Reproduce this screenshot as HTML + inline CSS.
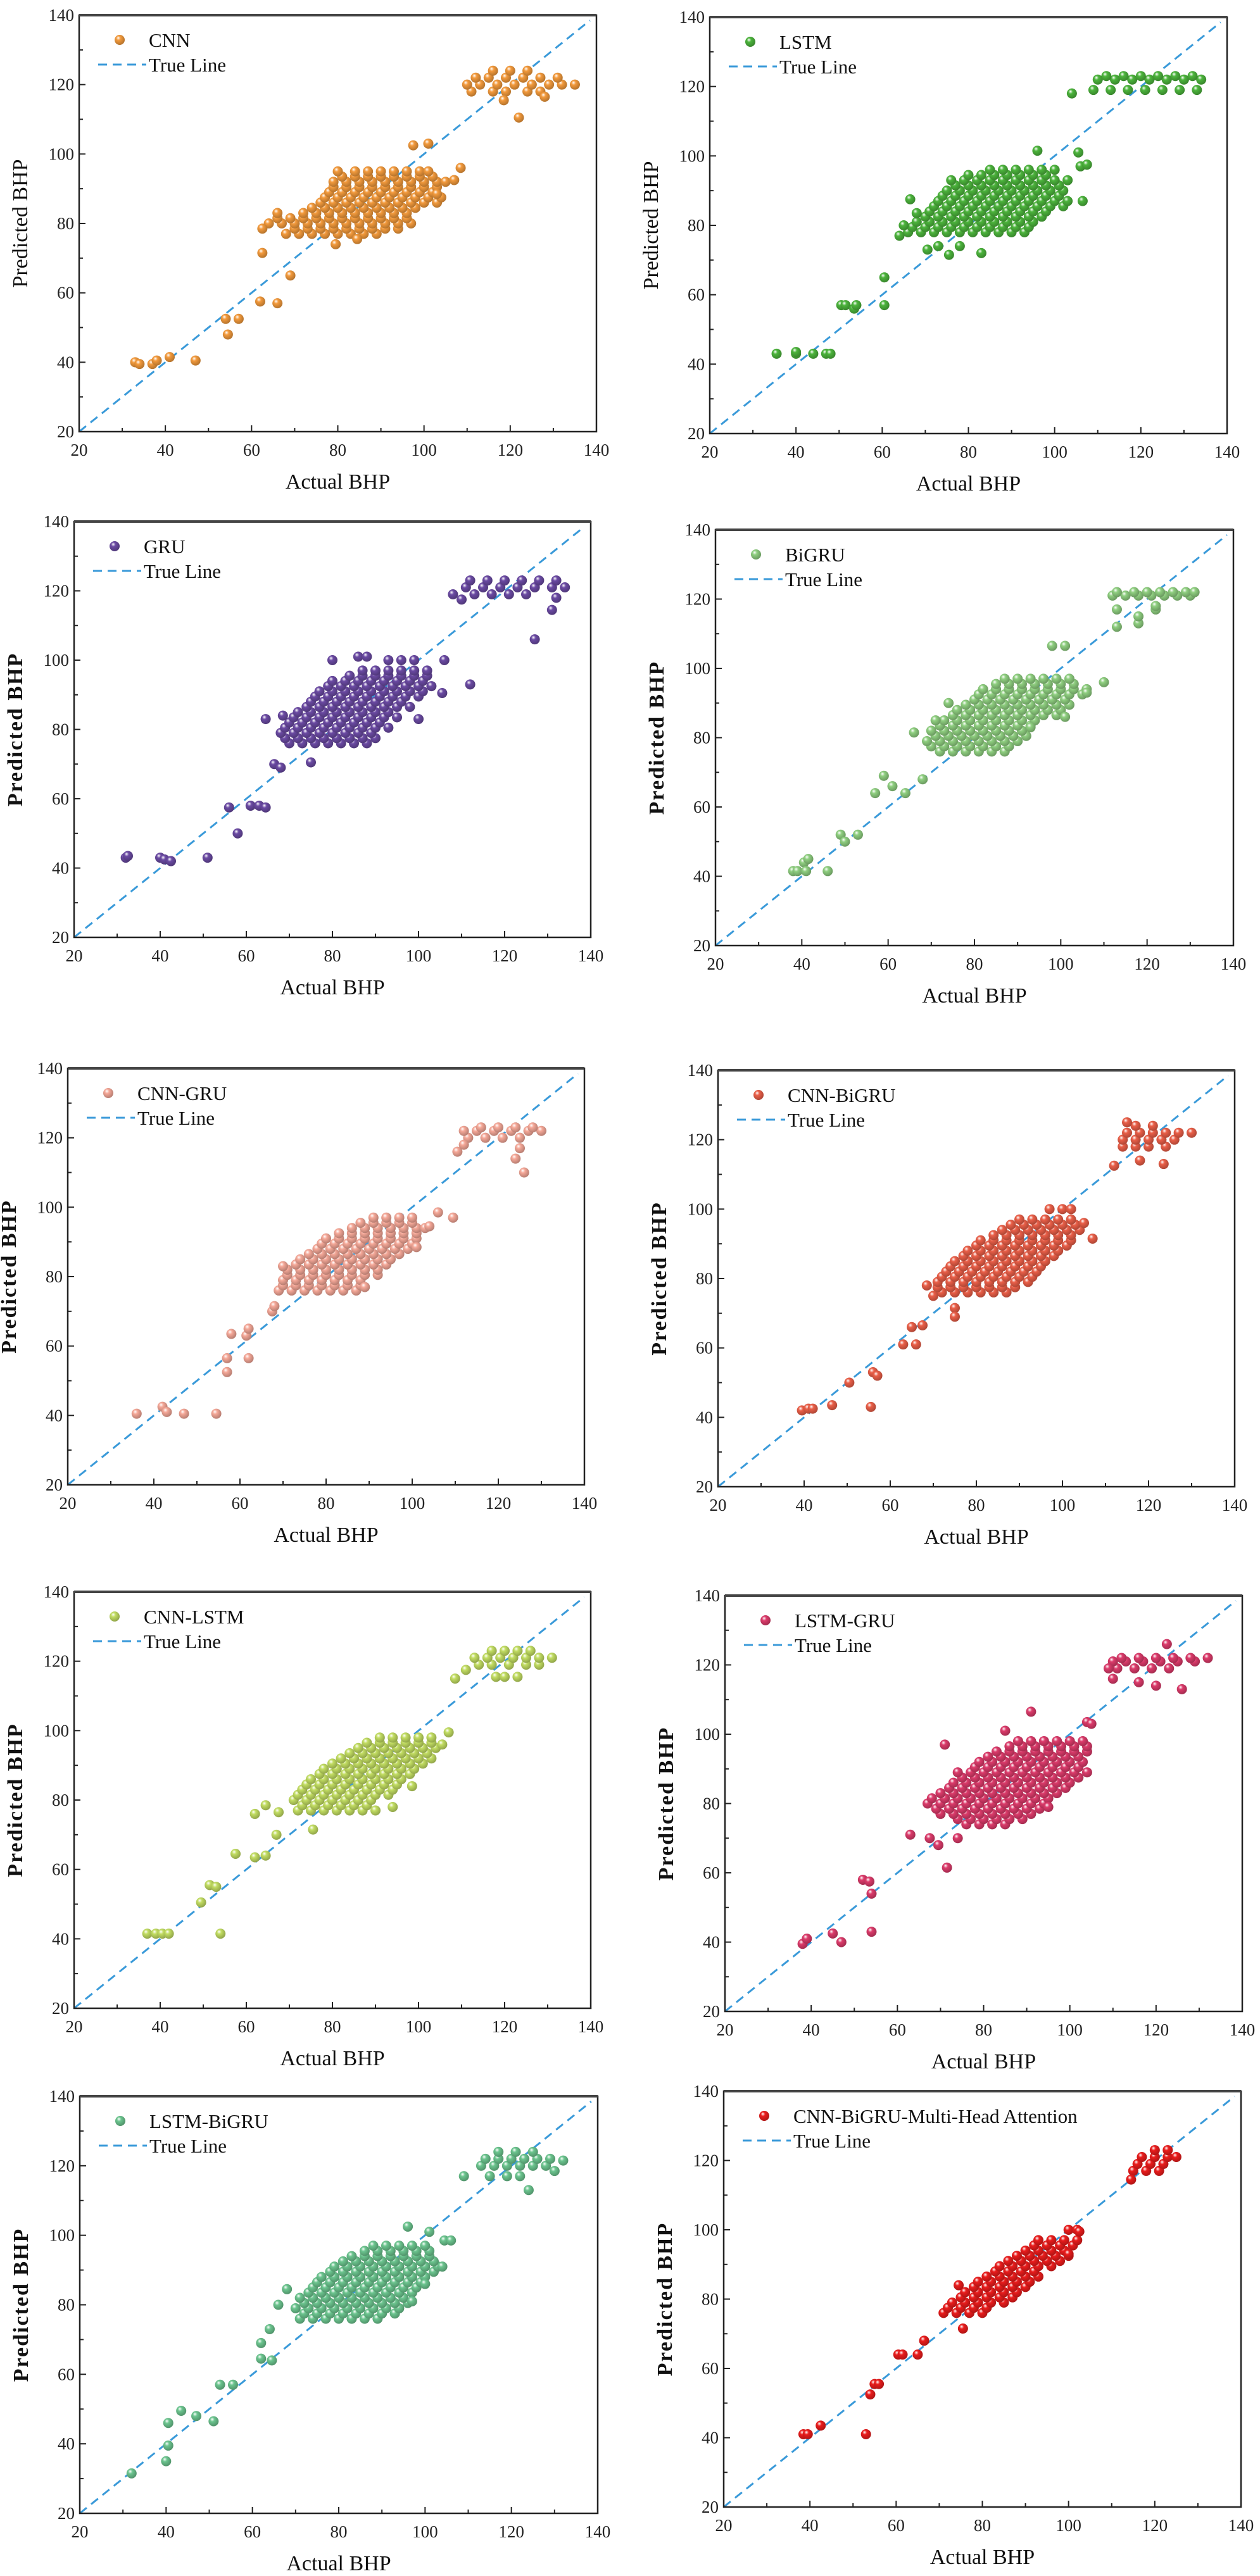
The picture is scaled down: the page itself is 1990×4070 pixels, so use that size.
<!DOCTYPE html>
<html><head><meta charset="utf-8">
<style>
html,body{margin:0;padding:0;background:#fff;}
svg{display:block;}
svg text{font-family:"Liberation Serif","DejaVu Serif",serif;}
</style></head>
<body>
<svg id="fig" width="1990" height="4070" viewBox="0 0 1990 4070" font-family="Liberation Serif, serif" xmlns="http://www.w3.org/2000/svg">
<defs id="defs"></defs>
</svg>
<script>
// ---- axis config
const tickValues = [20, 40, 60, 80, 100, 120, 140];
const minorTickValues = [30, 50, 70, 90, 110, 130];
const axisMin = 20, axisMax = 140;

// ---- CNN
const cnnOutX = [33,34,37,38,41,47,54,54.5,57,62,66,62.5,62.5,69,79.5,84.5,97.5,101,108.5,107,103,122,128,118.5];
const cnnOutY = [40,39.5,39.5,40.5,41.5,40.5,52.5,48,52.5,57.5,57,78.5,71.5,65,74,75.5,102.5,103,96,92.5,88.5,110.5,116.5,115.5];
const cnnRowY = [77,78.5,80,81.5,83,84.5,86,87.5,89,90.5,92,93.5,95,118,120,122,124];
const cnnRowX = [[68,71,74,77,80,83,86,89],[70,73,76,79,82,85,88,91,94],[64,67,70,73,76,79,82,85,88,91,94,97],[66,69,72,75,78,81,84,87,90,93,96],[66,72,75,78,81,84,87,90,93,96],[74,77,80,83,86,89,92,95,98],[76,79,82,85,88,91,94,97,100,103],[77,80,83,86,89,92,95,98,101,104],[78,81,84,87,90,93,96,99,102],[79,82,85,88,91,94,97,100,103],[79,82,85,88,91,94,97,100,103,105],[81,84,87,90,93,96,99,102],[80,84,87,90,93,96,99,101],[111,116,119,124,127],[110,113,117,121,125,129,132,135],[112,115,119,123,127,131],[116,120,124]];
// ---- LSTM
const lstmOutX = [35.5,40,40,44,47,48,50.5,51.5,53.5,54,60.5,60.5,64,65,66.5,68,70.5,73,75.5,78,83,96,105.5,106,107.5,106.5,104];
const lstmOutY = [43,43,43.5,43,43,43,57,57,56,57,57,65,77,80,87.5,83.5,73,74,71.5,74,72,101.5,101,97,97.5,87,118];
const lstmRowY = [78,79.5,81,82.5,84,85.5,87,88.5,90,91.5,93,94.5,96,119,122,123];
const lstmRowX = [[66,69,72,75,78,81,84,87,90,93],[67,70,73,76,79,82,85,88,91,94],[68,71,74,77,80,83,86,89,92,95],[70,73,76,79,82,85,88,91,94,97],[71,74,77,80,83,86,89,92,95,98],[72,75,78,81,84,87,90,93,96,99,102],[73,76,79,82,85,88,91,94,97,100,103],[74,77,80,83,86,89,92,95,98,101],[75,78,81,84,87,90,93,96,99,102],[77,80,83,86,89,92,95,98,101],[76,79,82,85,88,91,94,97,100,103],[80,83,86,89,92,95,98],[85,88,91,94,97,100],[109,113,117,121,125,129,133],[110,114,118,122,126,130,134],[112,116,120,124,128,132]];
// ---- GRU
const gruOutX = [32,32.5,40,41,42.5,51,56,58,61,63,64.5,64.5,66.5,68,75,68.5,80,86,88,106,105.5,112,100,108,110,127,131,132];
const gruOutY = [43,43.5,43,42.5,42,43,57.5,50,58,58,57.5,83,70,69,70.5,84,100,101,101,100,90.5,93,83,119,117.5,106,114.5,118];
const gruRowY = [76,77.5,79,80.5,82,83.5,85,86.5,88,89.5,91,92.5,94,95.5,97,100,119,121,123];
const gruRowX = [[70,73,76,79,82,85,88],[69,72,75,78,81,84,87,90],[68,71,74,77,80,83,86,89],[69,72,75,78,81,84,87,90,93],[70,73,76,79,82,85,88,91],[71,74,77,80,83,86,89,92,95],[72,75,78,81,84,87,90,93],[74,77,80,83,86,89,92,95,98],[75,78,81,84,87,90,93,96],[76,79,82,85,88,91,94,97,100],[77,80,83,86,89,92,95,98,101],[79,82,85,88,91,94,97,100,103],[80,83,86,89,92,95,98,101],[84,87,90,93,96,99,102],[87,90,93,96,99,102],[93,96,99],[113,117,121,125],[111,115,119,123,127,131,134],[112,116,120,124,128,132]];
// ---- BiGRU
const bigruOutX = [38,39,40.5,41.5,41,46,49,50,53,57,59,61,64,68,66,71,74,98,101,110,106,101,93,113,113,118,118,122,122];
const bigruOutY = [41.5,41.5,44,45,41.5,41.5,52,50,52,64,69,66,64,68,81.5,85,90,106.5,106.5,96,93,86,83,112,117,113,115,117,118];
const bigruRowY = [76,77.5,79,80.5,82,83.5,85,86.5,88,89.5,91,92.5,94,95.5,97,121,122];
const bigruRowX = [[72,75,78,81,84,87],[70,73,76,79,82,85,88],[69,72,75,78,81,84,87,90],[71,74,77,80,83,86,89,92],[70,73,76,79,82,85,88,91],[72,75,78,81,84,87,90,93],[73,76,79,82,85,88,91,94],[75,78,81,84,87,90,93,96,99],[76,79,82,85,88,91,94,97,100],[78,81,84,87,90,93,96,99,102],[80,83,86,89,92,95,98,101],[81,84,87,90,93,96,99,102,105],[82,85,88,91,94,97,100,103,106],[85,88,91,94,97,100,103],[87,90,93,96,99,102],[112,115,118,121,124,127,130],[113,117,120,123,126,129,131]];
// ---- CNN-GRU
const cnngruOutX = [36,42,43,47,54.5,57,57,58,61.5,62,62,67.5,68,70,89,101,104,106,109.5,110.5,112,124,125,126];
const cnngruOutY = [40.5,42.5,41,40.5,40.5,52.5,56.5,63.5,63,65,56.5,70,71.5,83,77,88.5,94.5,98.5,97,116,118,114,117,110];
const cnngruRowY = [76,77.5,79,80.5,82,83.5,85,86.5,88,89.5,91,92.5,94,95.5,97,120,122,123];
const cnngruRowX = [[69,72,75,78,81,84,87],[70,73,76,79,82,85,88],[70,73,76,79,82,85,88],[71,74,77,80,83,86,89,92],[71,74,77,80,83,86,89,92],[73,76,79,82,85,88,91,94],[74,77,80,83,86,89,92,95],[76,79,82,85,88,91,94,97],[78,81,84,87,90,93,96,99],[79,82,85,88,91,94,97,100],[80,83,86,89,92,95,98,101],[83,86,89,92,95,98,101],[86,89,92,95,98,101,103],[88,91,94,97,100],[91,94,97,100],[113,117,121,125],[112,115,119,123,127,130],[116,120,124,128]];
// ---- CNN-BiGRU
const cnnbigruOutX = [39.5,41,42,46.5,50.5,55.5,56,57,63,65,66,67.5,68.5,70,75,75,107,105,112,118,123.5,115];
const cnnbigruOutY = [42,42.5,42.5,43.5,50,43,53,52,61,66,61,66.5,78,75,71.5,69,91.5,96,112.5,114,113,125];
const cnnbigruRowY = [76,77.5,79,80.5,82,83.5,85,86.5,88,89.5,91,92.5,94,95.5,97,100,118,120,122,124];
const cnnbigruRowX = [[72,75,78,81,84,87],[71,74,77,80,83,86,89],[71,74,77,80,83,86,89,92],[72,75,78,81,84,87,90,93],[73,76,79,82,85,88,91,94],[74,77,80,83,86,89,92,95],[75,78,81,84,87,90,93,96],[77,80,83,86,89,92,95,98],[78,81,84,87,90,93,96,99],[80,83,86,89,92,95,98,101],[81,84,87,90,93,96,99,102],[84,87,90,93,96,99,102],[86,89,92,95,98,101,104],[88,91,94,97,100,103],[90,93,96,99,102],[97,100,102],[114,117,120,124],[114,117,120,123,126],[115,118,121,124,127,130],[117,121]];
// ---- CNN-LSTM
const cnnlstmOutX = [37,39,40.5,42,54,49.5,51.5,53,57.5,62,64.5,62,64.5,67,67.5,75.5,94,98.5,105.5,107,108.5,111,118,120,123];
const cnnlstmOutY = [41.5,41.5,41.5,41.5,41.5,50.5,55.5,55,64.5,63.5,64,76,78.5,70,76.5,71.5,78,84,96,99.5,115,117.5,115.5,115.5,115.5];
const cnnlstmRowY = [77,78.5,80,81.5,83,84.5,86,87.5,89,90.5,92,93.5,95,96.5,98,119,121,123];
const cnnlstmRowX = [[72,75,78,81,84,87,90],[73,76,79,82,85,88],[71,74,77,80,83,86,89],[72,75,78,81,84,87,90,93],[73,76,79,82,85,88,91,94],[74,77,80,83,86,89,92,95],[75,78,81,84,87,90,93,96],[77,80,83,86,89,92,95,98],[78,81,84,87,90,93,96,99],[80,83,86,89,92,95,98,101],[82,85,88,91,94,97,100,103],[84,87,90,93,96,99,102],[86,89,92,95,98,101,104],[88,91,94,97,100,103],[91,94,97,100,103],[114,117,121,125,128],[113,116,119,122,125,128,131],[117,120,123,126]];
// ---- LSTM-GRU
const lstmgruOutX = [38,39,45,47,54,52,53.5,54,63,67.5,69.5,71.5,71,74,85,91,95,104,105,109,110,116,120,126,122.5];
const lstmgruOutY = [39.5,41,42.5,40,43,58,57.5,54,71,70,68,61.5,97,70,101,106.5,79,103.5,103,119,116,115,114,113,126];
const lstmgruRowY = [74,75.5,77,78.5,80,81.5,83,84.5,86,87.5,89,90.5,92,93.5,95,96.5,98,119,121,122];
const lstmgruRowX = [[76,79,82,85],[74,77,80,83,86,89],[70,73,76,79,82,85,88,91],[69,72,75,78,81,84,87,90,93],[67,70,73,76,79,82,85,88,91,94],[68,71,74,77,80,83,86,89,92,95],[70,73,76,79,82,85,88,91,94,97],[72,75,78,81,84,87,90,93,96,99],[73,76,79,82,85,88,91,94,97,100],[75,78,81,84,87,90,93,96,99,102],[74,77,80,83,86,89,92,95,98,101,104],[78,81,84,87,90,93,96,99,102],[79,82,85,88,91,94,97,100,103],[81,84,87,90,93,96,99,102],[83,86,89,92,95,98,101,104],[86,89,92,95,98,101,104],[88,91,94,97,100,103],[111,115,119,123],[110,113,117,121,125,129],[112,116,120,124,128,132]];
// ---- LSTM-BiGRU
const lstmbigruOutX = [32,40,40.5,40.5,43.5,47,51,52.5,55.5,62,62,64.5,64,66,68,96,101,104,100,97,104.5,106,109,124,130,132];
const lstmbigruOutY = [31.5,35,39.5,46,49.5,48,46.5,57,57,69,64.5,64,73,80,84.5,102.5,101,91,86,81,98.5,98.5,117,113,118.5,121.5];
const lstmbigruRowY = [76,77.5,79,80.5,82,83.5,85,86.5,88,89.5,91,92.5,94,95.5,97,117,120,122,124];
const lstmbigruRowX = [[71,74,77,80,83,86,89],[72,75,78,81,84,87,90,93],[70,73,76,79,82,85,88,91,94],[72,75,78,81,84,87,90,93,96],[71,74,77,80,83,86,89,92,95],[73,76,79,82,85,88,91,94,97],[74,77,80,83,86,89,92,95,98],[75,78,81,84,87,90,93,96,99],[76,79,82,85,88,91,94,97,100],[78,81,84,87,90,93,96,99,102],[79,82,85,88,91,94,97,100,103],[81,84,87,90,93,96,99,102],[83,86,89,92,95,98,101],[86,89,92,95,98,101],[88,91,94,97,100],[115,119,122],[113,116,119,122,125,128],[114,117,120,123,126,129],[117,121,125]];
// ---- CNN-BiGRU-Multi-Head Attention
const mhaOutX = [38.5,39.5,42.5,53,54,55,56,60.5,61.5,65,66.5,75.5,74.5,114.5,102.5,100];
const mhaOutY = [41,41,43.5,41,52.5,55.5,55.5,64,64,64,68,71.5,84,114.5,99.5,93];
const mhaRowY = [76,77.5,79,80.5,82,83.5,85,86.5,88,89.5,91,92.5,94,95.5,97,100,117,119,121,123];
const mhaRowX = [[71,74,77,80],[72,75,78,81],[73,76,79,82,85],[75,78,81,84,87],[76,79,82,85,88],[78,81,84,87,90],[79,82,85,88,91],[81,84,87,90,93],[83,86,89,92],[84,87,90,93,96],[86,89,92,95,98],[88,91,94,97,100],[90,93,96,99],[92,95,98,101],[93,96,99,102],[100,102],[115,118,121],[116,119,122],[117,120,123,125],[120,123]];

const panels = [
  {key:'cnn', label:'CNN', color:'#f39a3c', box:[125,24,942,682], bold:false, ox:cnnOutX, oy:cnnOutY, ry:cnnRowY, rx:cnnRowX},
  {key:'lstm', label:'LSTM', color:'#4cb43c', box:[1121,27,1938,685], bold:false, ox:lstmOutX, oy:lstmOutY, ry:lstmRowY, rx:lstmRowX},
  {key:'gru', label:'GRU', color:'#6b4aa3', box:[117,824,933,1481], bold:true, ox:gruOutX, oy:gruOutY, ry:gruRowY, rx:gruRowX},
  {key:'bigru', label:'BiGRU', color:'#8fcf80', box:[1130,837,1948,1494], bold:true, ox:bigruOutX, oy:bigruOutY, ry:bigruRowY, rx:bigruRowX},
  {key:'cnn-gru', label:'CNN-GRU', color:'#f5a898', box:[107,1688,923,2346], bold:true, ox:cnngruOutX, oy:cnngruOutY, ry:cnngruRowY, rx:cnngruRowX},
  {key:'cnn-bigru', label:'CNN-BiGRU', color:'#ea5f48', box:[1134,1691,1950,2349], bold:true, ox:cnnbigruOutX, oy:cnnbigruOutY, ry:cnnbigruRowY, rx:cnnbigruRowX},
  {key:'cnn-lstm', label:'CNN-LSTM', color:'#c2dd62', box:[117,2515,933,3173], bold:true, ox:cnnlstmOutX, oy:cnnlstmOutY, ry:cnnlstmRowY, rx:cnnlstmRowX},
  {key:'lstm-gru', label:'LSTM-GRU', color:'#dc3b6b', box:[1145,2521,1962,3178], bold:true, ox:lstmgruOutX, oy:lstmgruOutY, ry:lstmgruRowY, rx:lstmgruRowX},
  {key:'lstm-bigru', label:'LSTM-BiGRU', color:'#6cc58f', box:[126,3312,944,3971], bold:true, ox:lstmbigruOutX, oy:lstmbigruOutY, ry:lstmbigruRowY, rx:lstmbigruRowX},
  {key:'mha', label:'CNN-BiGRU-Multi-Head Attention', color:'#ea1c1c', box:[1143,3304,1960,3961], bold:true, ox:mhaOutX, oy:mhaOutY, ry:mhaRowY, rx:mhaRowX}
];

const NS = 'http://www.w3.org/2000/svg';
const svg = document.getElementById('fig');
const defs = document.getElementById('defs');
const FONT = '"Liberation Serif", "DejaVu Serif", serif';
function mk(tag, attrs, parent){
  const e = document.createElementNS(NS, tag);
  for (const k in attrs) e.setAttribute(k, attrs[k]);
  if (tag === 'text') e.style.fontFamily = FONT;
  if (parent) parent.appendChild(e);
  return e;
}
function shade(hex, f){
  const n = parseInt(hex.slice(1),16);
  let r=(n>>16)&255, g=(n>>8)&255, b=n&255;
  if (f<0){ r=Math.round(r*(1+f)); g=Math.round(g*(1+f)); b=Math.round(b*(1+f)); }
  else { r=Math.round(r+(255-r)*f); g=Math.round(g+(255-g)*f); b=Math.round(b+(255-b)*f); }
  return 'rgb('+r+','+g+','+b+')';
}

panels.forEach(function(p){
  const [L,T,R,B] = p.box;
  const xs = v => L + (v-axisMin)/(axisMax-axisMin)*(R-L);
  const ys = v => B - (v-axisMin)/(axisMax-axisMin)*(B-T);

  const grad = mk('radialGradient', {id:'g-'+p.key, cx:'0.4', cy:'0.38', r:'0.62', fx:'0.36', fy:'0.3'}, defs);
  mk('stop', {offset:'0', 'stop-color':'#ffffff'}, grad);
  mk('stop', {offset:'0.35', 'stop-color':p.color}, grad);
  mk('stop', {offset:'1', 'stop-color':shade(p.color,-0.25)}, grad);

  const g = mk('g', {}, svg);
  
  

  const ticks = mk('g', {stroke:'#222', 'stroke-width':'2'}, g);
  
  
  tickValues.forEach(function(v){
    mk('line', {x1:xs(v), x2:xs(v), y1:B, y2:B-10}, ticks);
    mk('line', {x1:L, x2:L+10, y1:ys(v), y2:ys(v)}, ticks);
  });
  minorTickValues.forEach(function(v){
    mk('line', {x1:xs(v), x2:xs(v), y1:B, y2:B-6}, ticks);
    mk('line', {x1:L, x2:L+6, y1:ys(v), y2:ys(v)}, ticks);
  });
  tickValues.forEach(function(v){
    const tx = mk('text', {x:xs(v), y:B+38, 'font-size':'27', 'text-anchor':'middle', fill:'#222'}, g);
    
    
    tx.textContent = v;
    const ty = mk('text', {x:L-8, y:ys(v)+9, 'font-size':'27', 'text-anchor':'end', fill:'#222'}, g);
    
    
    ty.textContent = v;
  });
  const xt = mk('text', {x:(L+R)/2, y:B+90, 'font-size':'34', 'text-anchor':'middle', fill:'#111'}, g);
  
  
  xt.textContent = 'Actual BHP';
  const yx = L-82, yy = (T+B)/2;
  const yt = mk('text', {x:yx, y:yy, 'font-size':'34', 'text-anchor':'middle', fill:'#111',
    'font-weight': p.bold ? 'bold':'normal', 'letter-spacing': p.bold ? '2':'0',
    transform:'rotate(-90 '+yx+' '+yy+')'}, g);
  
  
  yt.textContent = 'Predicted BHP';

  const tl = mk('line', {x1:xs(20), y1:ys(20), x2:xs(138.5), y2:ys(138.5), stroke:'#3a9ad9', 'stroke-width':'3', 'stroke-dasharray':'14 9'}, g);
  
  

  const pts = mk('g', {}, g);
  
  
  function dot(x,y){
    const c = mk('circle', {cx:xs(x), cy:ys(y), r:8, fill:'url(#g-'+p.key+')'}, pts);
    
    
  }
  p.ry.forEach(function(yv, i){ p.rx[i].forEach(function(xv){ dot(xv, yv); }); });
  p.ox.forEach(function(xv, i){ dot(xv, p.oy[i]); });

  const fr = mk('rect', {x:L, y:T, width:R-L, height:B-T, fill:'none', stroke:'#222', 'stroke-width':'2.5'}, g);
  
  
  mk('line', {x1:L, x2:R, y1:T, y2:T, stroke:'#444', 'stroke-width':'4'}, g);

  const lg = mk('g', {}, g);
  
  
  const lm = mk('circle', {cx:L+64, cy:T+39, r:8, fill:'url(#g-'+p.key+')'}, lg);
  
  
  const lt = mk('text', {x:L+110, y:T+50, 'font-size':'31', fill:'#111'}, lg);
  
  
  lt.textContent = p.label;
  const ld = mk('line', {x1:L+30, x2:L+106, y1:T+78, y2:T+78, stroke:'#3a9ad9', 'stroke-width':'3', 'stroke-dasharray':'14 9'}, lg);
  
  
  const lt2 = mk('text', {x:L+110, y:T+89, 'font-size':'31', fill:'#111'}, lg);
  
  
  lt2.textContent = 'True Line';
});
</script>
</body></html>
